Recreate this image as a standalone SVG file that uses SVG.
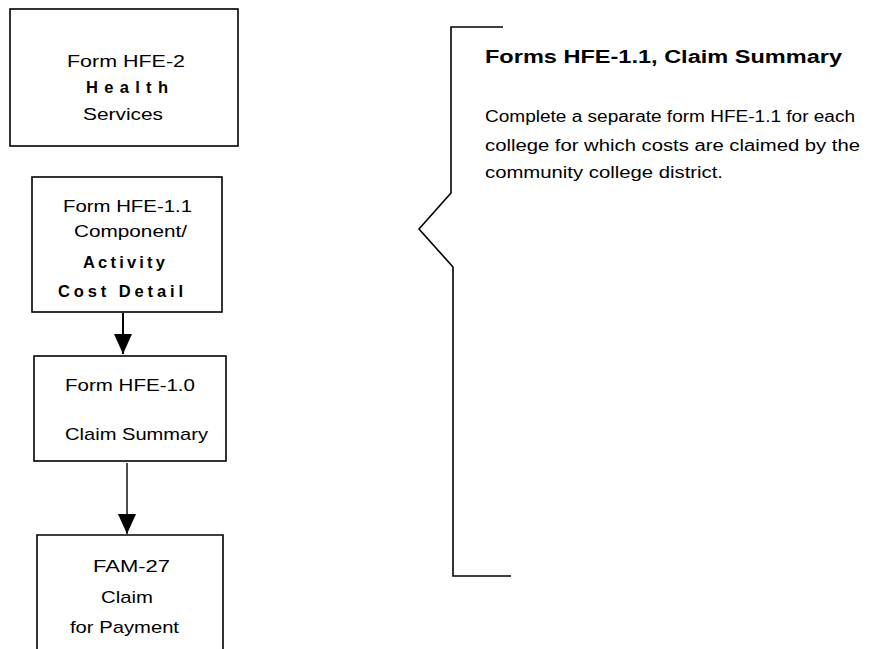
<svg xmlns="http://www.w3.org/2000/svg" width="870" height="649" viewBox="0 0 870 649">
<style>
.box{fill:#fff;stroke:#000;stroke-width:1.6}
.t{font-family:"Liberation Sans",Arial,sans-serif;font-size:17px;fill:#000}
.b{font-weight:bold}
.s{font-size:16.5px;font-weight:bold}
.n{font-size:16px}
.ln{fill:none;stroke:#000;stroke-width:1.6}
</style>
<defs>
<marker id="ah" viewBox="0 0 10 10" refX="10" refY="5" markerWidth="20" markerHeight="20" markerUnits="userSpaceOnUse" orient="auto">
<path d="M0,0.5 L10,5 L0,9.5 z" fill="#000"/>
</marker>
</defs>
<rect width="870" height="649" fill="#fff"/>
<g id="node-hfe2">
<rect class="box" x="10" y="9" width="228" height="137"/>
<text class="t" x="67" y="67" textLength="118" lengthAdjust="spacingAndGlyphs">Form HFE-2</text>
<text class="t s" x="86" y="93" textLength="82" lengthAdjust="spacing">Health</text>
<text class="t" x="83" y="120" textLength="80" lengthAdjust="spacingAndGlyphs">Services</text>
</g>
<g id="node-hfe11">
<rect class="box" x="32" y="177" width="190" height="135"/>
<text class="t" x="63" y="212" textLength="129" lengthAdjust="spacingAndGlyphs">Form HFE-1.1</text>
<text class="t" x="74" y="237" textLength="113" lengthAdjust="spacingAndGlyphs">Component/</text>
<text class="t s" x="83" y="268" textLength="82" lengthAdjust="spacing">Activity</text>
<text class="t s" x="58" y="297" textLength="125" lengthAdjust="spacing">Cost Detail</text>
</g>
<g id="node-hfe10">
<rect class="box" x="34" y="356" width="192" height="105"/>
<text class="t" x="65" y="391" textLength="130" lengthAdjust="spacingAndGlyphs">Form HFE-1.0</text>
<text class="t" x="65" y="440" textLength="143" lengthAdjust="spacingAndGlyphs">Claim Summary</text>
</g>
<g id="node-fam27">
<path class="ln" d="M37,650 V535 H223 V650"/>
<text class="t" x="93" y="572" textLength="77" lengthAdjust="spacingAndGlyphs">FAM-27</text>
<text class="t" x="101" y="603" textLength="52" lengthAdjust="spacingAndGlyphs">Claim</text>
<text class="t" x="70" y="633" textLength="109" lengthAdjust="spacingAndGlyphs">for Payment</text>
</g>
<g id="connectors">
<line class="ln" x1="123" y1="313" x2="123" y2="354" marker-end="url(#ah)" style="stroke-width:2"/>
<line class="ln" x1="127" y1="463" x2="127" y2="534" marker-end="url(#ah)" style="stroke-width:1.4"/>
</g>
<g id="brace">
<path class="ln" d="M503,27 H451 V193 L419,229 L453,267 V576 H511"/>
</g>
<g id="note">
<text class="t b" x="485" y="63" textLength="357" lengthAdjust="spacingAndGlyphs" style="font-size:18px">Forms HFE-1.1, Claim Summary</text>
<text class="t n" x="485" y="122" textLength="370" lengthAdjust="spacingAndGlyphs">Complete a separate form HFE-1.1 for each</text>
<text class="t n" x="485" y="151" textLength="375" lengthAdjust="spacingAndGlyphs">college for which costs are claimed by the</text>
<text class="t n" x="485" y="178" textLength="238" lengthAdjust="spacingAndGlyphs">community college district.</text>
</g>
</svg>
